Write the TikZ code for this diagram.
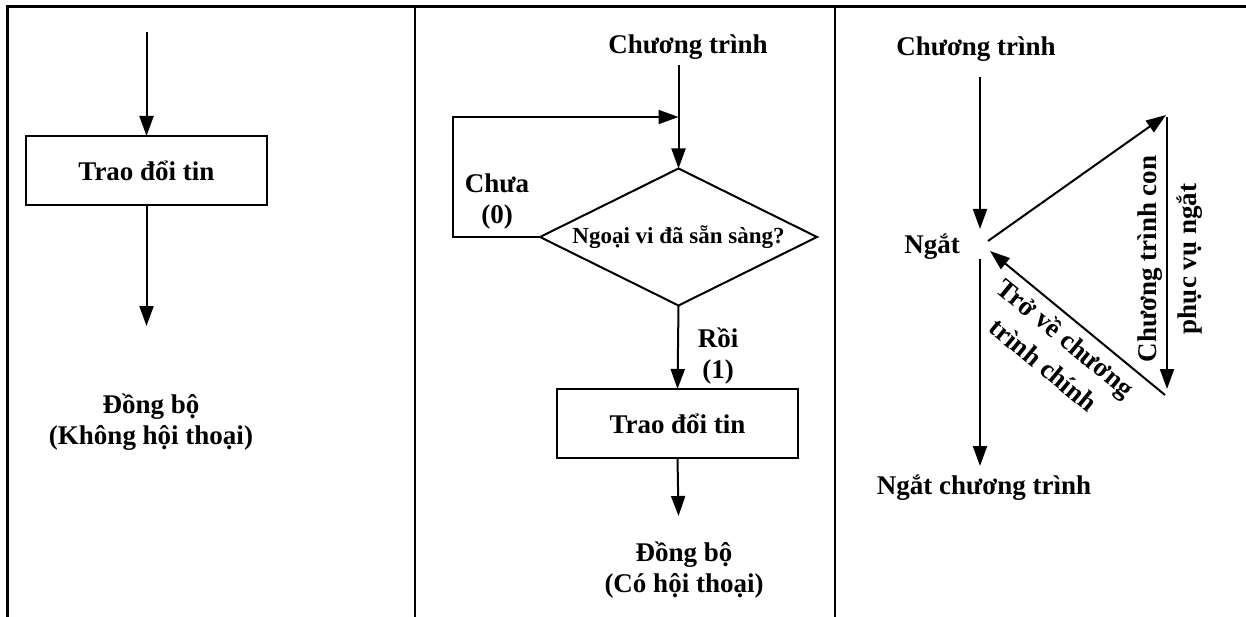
\documentclass[tikz,border=0pt]{standalone}
\usepackage{fontspec}
\setmainfont{Liberation Serif}
\usetikzlibrary{arrows.meta,shapes.geometric}
\begin{document}
\begin{tikzpicture}[x=1pt,y=-1pt,
  frameline/.style={line width=2.5pt},
  conn/.style={line width=2pt,-{Triangle[length=20pt,width=14pt]}},
  lbl/.style={font=\bfseries\fontsize{27}{31}\selectfont,inner sep=0pt,align=center},
  small/.style={font=\bfseries\fontsize{23}{26}\selectfont,inner sep=0pt,align=center},
  procbox/.style={draw,line width=2pt,minimum width=241pt,minimum height=69pt,outer sep=0pt,lbl},
  decision/.style={draw,diamond,line width=2pt,minimum width=277pt,minimum height=137pt,aspect=2.02,inner sep=0pt,outer sep=0pt,small}]
\useasboundingbox (0,0) rectangle (1246,617);
% frame
\draw[frameline] (1246,6.5) -- (7.5,6.5) -- (7.5,617);
\draw[frameline] (415,6.5) -- (415,617);
\draw[frameline] (835,6.5) -- (835,617);

% ---------- panel 1
\coordinate (a1) at (146.5,32);
\node[procbox] (box1) at (146.5,170.5) {Trao đổi tin};
\coordinate (a2) at (146.5,326);
\node[lbl] (sync1) at (151,422) {Đồng bộ\\(Không hội thoại)};
\draw[conn] (a1) -- (box1.north);
\draw[conn] (box1.south) -- (a2);

% ---------- panel 2
\node[lbl] (prog2) at (688,47) {Chương trình};
\coordinate (b1) at (678.5,65);
\node[decision] (dia) at (678.5,237) {Ngoại vi đã sẵn sàng?};
\coordinate (loopL) at (453,237);
\coordinate (loopT) at (453,117);
\coordinate (loopE) at (678.5,117);
\node[lbl] (chua) at (497,202) {Chưa\\(0)};
\node[lbl] (roi) at (718,356) {Rồi\\(1)};
\node[procbox] (box2) at (677.5,423.5) {Trao đổi tin};
\coordinate (b2) at (678.5,516);
\node[lbl] (sync2) at (684,570) {Đồng bộ\\(Có hội thoại)};
\draw[conn] (b1) -- (dia.north);
\draw[conn] (dia.west) -- (loopL) -- (loopT) -- (loopE);
\draw[conn] (dia.south) -- (box2.north);
\draw[conn] (box2.south) -- (b2);

% ---------- panel 3
\node[lbl] (prog3) at (976,49) {Chương trình};
\coordinate (c1) at (980,77);
\coordinate (c2) at (980,229);
\node[lbl] (ngat) at (932,247) {Ngắt};
\coordinate (c3) at (980,259);
\coordinate (c4) at (980,466);
\node[lbl] (ngatct) at (984,488) {Ngắt chương trình};
\coordinate (d1) at (988,241);
\coordinate (d2) at (1166,115);
\coordinate (d3) at (1167,117);
\coordinate (d4) at (1167,389);
\coordinate (d5) at (1165,395);
\coordinate (d6) at (990,251);
\draw[conn] (c1) -- (c2);
\draw[conn] (c3) -- (c4);
\draw[conn] (d1) -- (d2);
\draw[conn] (d3) -- (d4);
\draw[conn] (d5) -- (d6);
\node[lbl,rotate=90] (sub1) at (1150,259) {Chương trình con};
\node[lbl,rotate=90] (sub2) at (1190,259) {phục vụ ngắt};
\node[lbl,rotate=-39.5,font=\bfseries\fontsize{27}{35}\selectfont] (ret) at (1055,351) {Trở về chương\\trình chính};
\end{tikzpicture}
\end{document}
